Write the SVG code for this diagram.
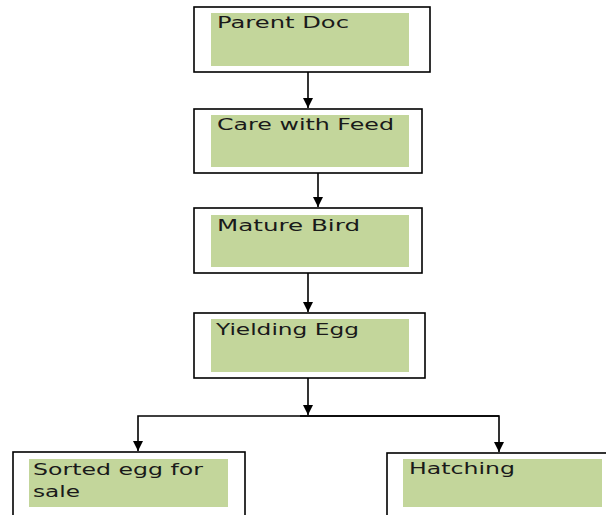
<svg xmlns="http://www.w3.org/2000/svg" width="606" height="515" viewBox="0 0 606 515">
<style>
.box{fill:#fff;stroke:#000;stroke-width:1.6}
.fill{fill:#c3d69b}
.t{font-family:"DejaVu Sans",Verdana,sans-serif;font-size:15px;fill:#1a1a1a}
.c{fill:none;stroke:#000;stroke-width:1.6}
</style>
<defs>
<marker id="ah" markerWidth="11" markerHeight="10" refX="10" refY="5" orient="auto" markerUnits="userSpaceOnUse">
<path d="M0,0 L10,5 L0,10 Z" fill="#000"/>
</marker>
</defs>
<g id="connectors">
<line class="c" x1="308" y1="72" x2="308" y2="108" marker-end="url(#ah)"/>
<line class="c" x1="318" y1="173" x2="318" y2="207" marker-end="url(#ah)"/>
<line class="c" x1="308" y1="273" x2="308" y2="312" marker-end="url(#ah)"/>
<line class="c" x1="308" y1="378" x2="308" y2="415" marker-end="url(#ah)"/>
<path class="c" d="M499,416 L138,416 L138,451" marker-end="url(#ah)"/>
<path class="c" d="M300,416 L499,416 L499,452" marker-end="url(#ah)"/>
</g>
<g id="parent-doc">
<rect class="box" x="194" y="7" width="236" height="65"/>
<rect class="fill" x="211" y="13" width="198" height="53"/>
<text class="t" x="217" y="28" textLength="132" lengthAdjust="spacingAndGlyphs">Parent Doc</text>
</g>
<g id="care-with-feed">
<rect class="box" x="194" y="109" width="228" height="64"/>
<rect class="fill" x="211" y="115" width="198" height="52"/>
<text class="t" x="217" y="130" textLength="177" lengthAdjust="spacingAndGlyphs">Care with Feed</text>
</g>
<g id="mature-bird">
<rect class="box" x="194" y="208" width="228" height="65"/>
<rect class="fill" x="211" y="215" width="198" height="52"/>
<text class="t" x="217" y="231" textLength="143" lengthAdjust="spacingAndGlyphs">Mature Bird</text>
</g>
<g id="yielding-egg">
<rect class="box" x="194" y="313" width="231" height="65"/>
<rect class="fill" x="211" y="319" width="198" height="53"/>
<text class="t" x="216" y="335" textLength="143" lengthAdjust="spacingAndGlyphs">Yielding Egg</text>
</g>
<g id="sorted-egg">
<rect class="box" x="13" y="452" width="232" height="80"/>
<rect class="fill" x="29" y="459" width="199" height="48"/>
<text class="t" x="33" y="475" textLength="170" lengthAdjust="spacingAndGlyphs">Sorted egg for</text>
<text class="t" x="33" y="497" textLength="47" lengthAdjust="spacingAndGlyphs">sale</text>
</g>
<g id="hatching">
<rect class="box" x="387" y="453" width="240" height="80"/>
<rect class="fill" x="403" y="459" width="199" height="48"/>
<text class="t" x="409" y="474" textLength="106" lengthAdjust="spacingAndGlyphs">Hatching</text>
</g>
</svg>
